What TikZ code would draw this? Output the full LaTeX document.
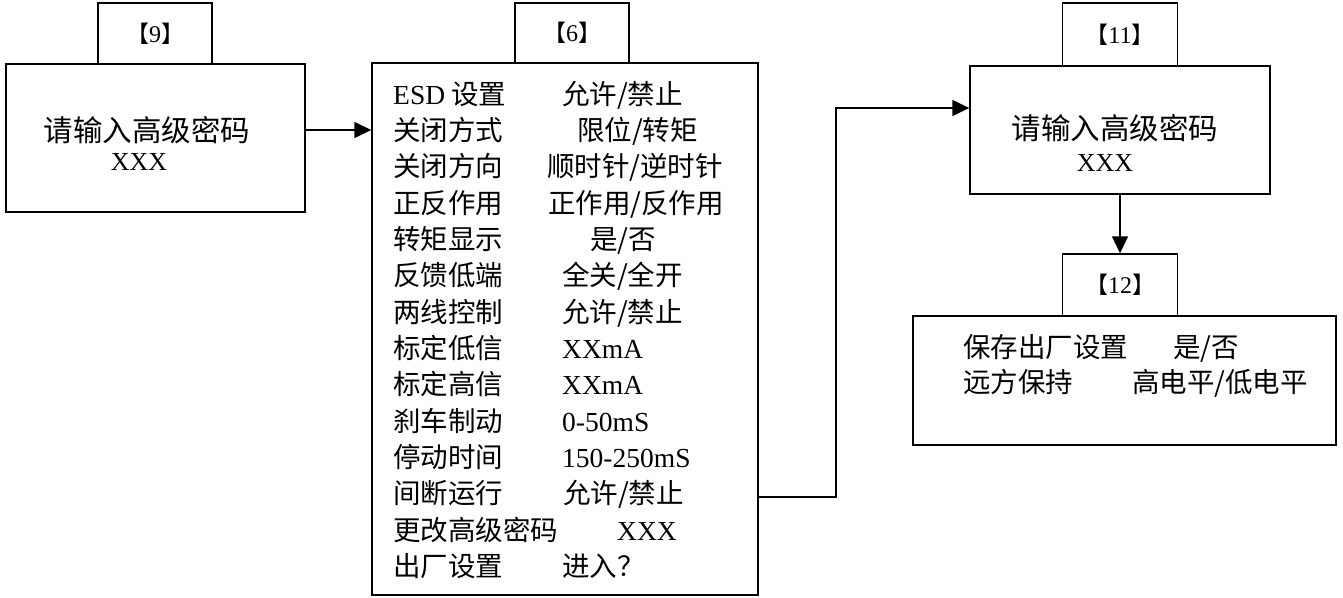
\documentclass[tikz,border=0pt]{standalone}
\usepackage{fontspec}
\setmainfont{Liberation Serif}
\newfontfamily\cjk{Noto Sans CJK SC}
\usetikzlibrary{arrows.meta}
\newcommand\lat[1]{{\normalfont\fontsize{27.5}{31}\selectfont #1}}
\newcommand\latb[1]{{\normalfont\fontsize{26}{30}\selectfont #1}}
\newcommand\lab[1]{{\cjk\fontsize{23}{27}\selectfont 【}{\normalfont\fontsize{24}{28}\selectfont #1}{\cjk\fontsize{23}{27}\selectfont 】}}
\begin{document}
\begin{tikzpicture}[x=1pt,y=-1pt,
  box/.style={draw, line width=1.4pt, inner sep=0pt, rectangle},
  txt/.style={inner sep=0pt, anchor=base west, font=\cjk\fontsize{27.5}{33}\selectfont},
  ctxt/.style={inner sep=0pt, anchor=center, font=\cjk\fontsize{29.5}{34}\selectfont},
  arr/.style={line width=1.4pt, -{Triangle[length=17pt,width=16pt]}}]
\useasboundingbox[fill=white] (0,0) rectangle (1343,597);
% boxes
\node[box, minimum width=114pt, minimum height=61pt] (l9) at (155,33.5) {\lab{9}};
\node[box, minimum width=299pt, minimum height=148pt] (b9) at (155.5,138) {};
\node[box, minimum width=114pt, minimum height=60pt] (l6) at (572,33) {\lab{6}};
\node[box, minimum width=386pt, minimum height=532pt] (b6) at (565,329) {};
\node[box, minimum width=115pt, minimum height=63pt] (l11) at (1120,34.5) {\lab{11}};
\node[box, minimum width=300pt, minimum height=128pt] (b11) at (1120,130) {};
\node[box, minimum width=115pt, minimum height=62pt] (l12) at (1120,285) {\lab{12}};
\node[box, minimum width=423pt, minimum height=129pt] (b12) at (1124.5,380.5) {};
% box 9 text
\node[ctxt] (t9a) at (147,130) {请输入高级密码};
\node[ctxt] (t9b) at (139,162) {\latb{XXX}};
% box 11 text
\node[ctxt] (t11a) at (1115,128) {请输入高级密码};
\node[ctxt] (t11b) at (1105,163) {\latb{XXX}};
% box 6 rows
\node[txt] (r0)  at (393,104)   {\lat{ESD} 设置};
\node[txt] (v0)  at (562,104)   {允许/禁止};
\node[txt] (r1)  at (393,140.4) {关闭方式};
\node[txt] (v1)  at (577,140.4) {限位/转矩};
\node[txt] (r2)  at (393,176.7) {关闭方向};
\node[txt] (v2)  at (547,176.7) {顺时针/逆时针};
\node[txt] (r3)  at (393,213.1) {正反作用};
\node[txt] (v3)  at (548,213.1) {正作用/反作用};
\node[txt] (r4)  at (393,249.4) {转矩显示};
\node[txt] (v4)  at (590,249.4) {是/否};
\node[txt] (r5)  at (393,285.8) {反馈低端};
\node[txt] (v5)  at (562,285.8) {全关/全开};
\node[txt] (r6)  at (393,322.1) {两线控制};
\node[txt] (v6)  at (562,322.1) {允许/禁止};
\node[txt] (r7)  at (393,358.5) {标定低信};
\node[txt] (v7)  at (562,358.5) {\lat{XXmA}};
\node[txt] (r8)  at (393,394.8) {标定高信};
\node[txt] (v8)  at (562,394.8) {\lat{XXmA}};
\node[txt] (r9)  at (393,431.2) {刹车制动};
\node[txt] (v9)  at (562,431.2) {\lat{0-50mS}};
\node[txt] (r10) at (393,467.5) {停动时间};
\node[txt] (v10) at (562,467.5) {\lat{150-250mS}};
\node[txt] (r11) at (393,503.9) {间断运行};
\node[txt] (v11) at (563,503.9) {允许/禁止};
\node[txt] (r12) at (393,540.2) {更改高级密码};
\node[txt] (v12) at (617,540.2) {\lat{XXX}};
\node[txt] (r13) at (393,576.6) {出厂设置};
\node[txt] (v13) at (562,576.6) {进入？};
% box 12 rows
\node[txt] (s0) at (963,357) {保存出厂设置};
\node[txt] (w0) at (1173,357) {是/否};
\node[txt] (s1) at (963,392) {远方保持};
\node[txt] (w1) at (1132,392) {高电平/低电平};
% connectors
\coordinate (bend) at (836,108);
\draw[arr] ([yshift=8pt]b9.east) -- ([yshift=8pt]b9.east -| b6.west);
\draw[arr] ([yshift=-168pt]b6.east) -| (bend) -- (bend -| b11.west);
\draw[arr] (b11.south) -- (l12.north);
\end{tikzpicture}
\end{document}
